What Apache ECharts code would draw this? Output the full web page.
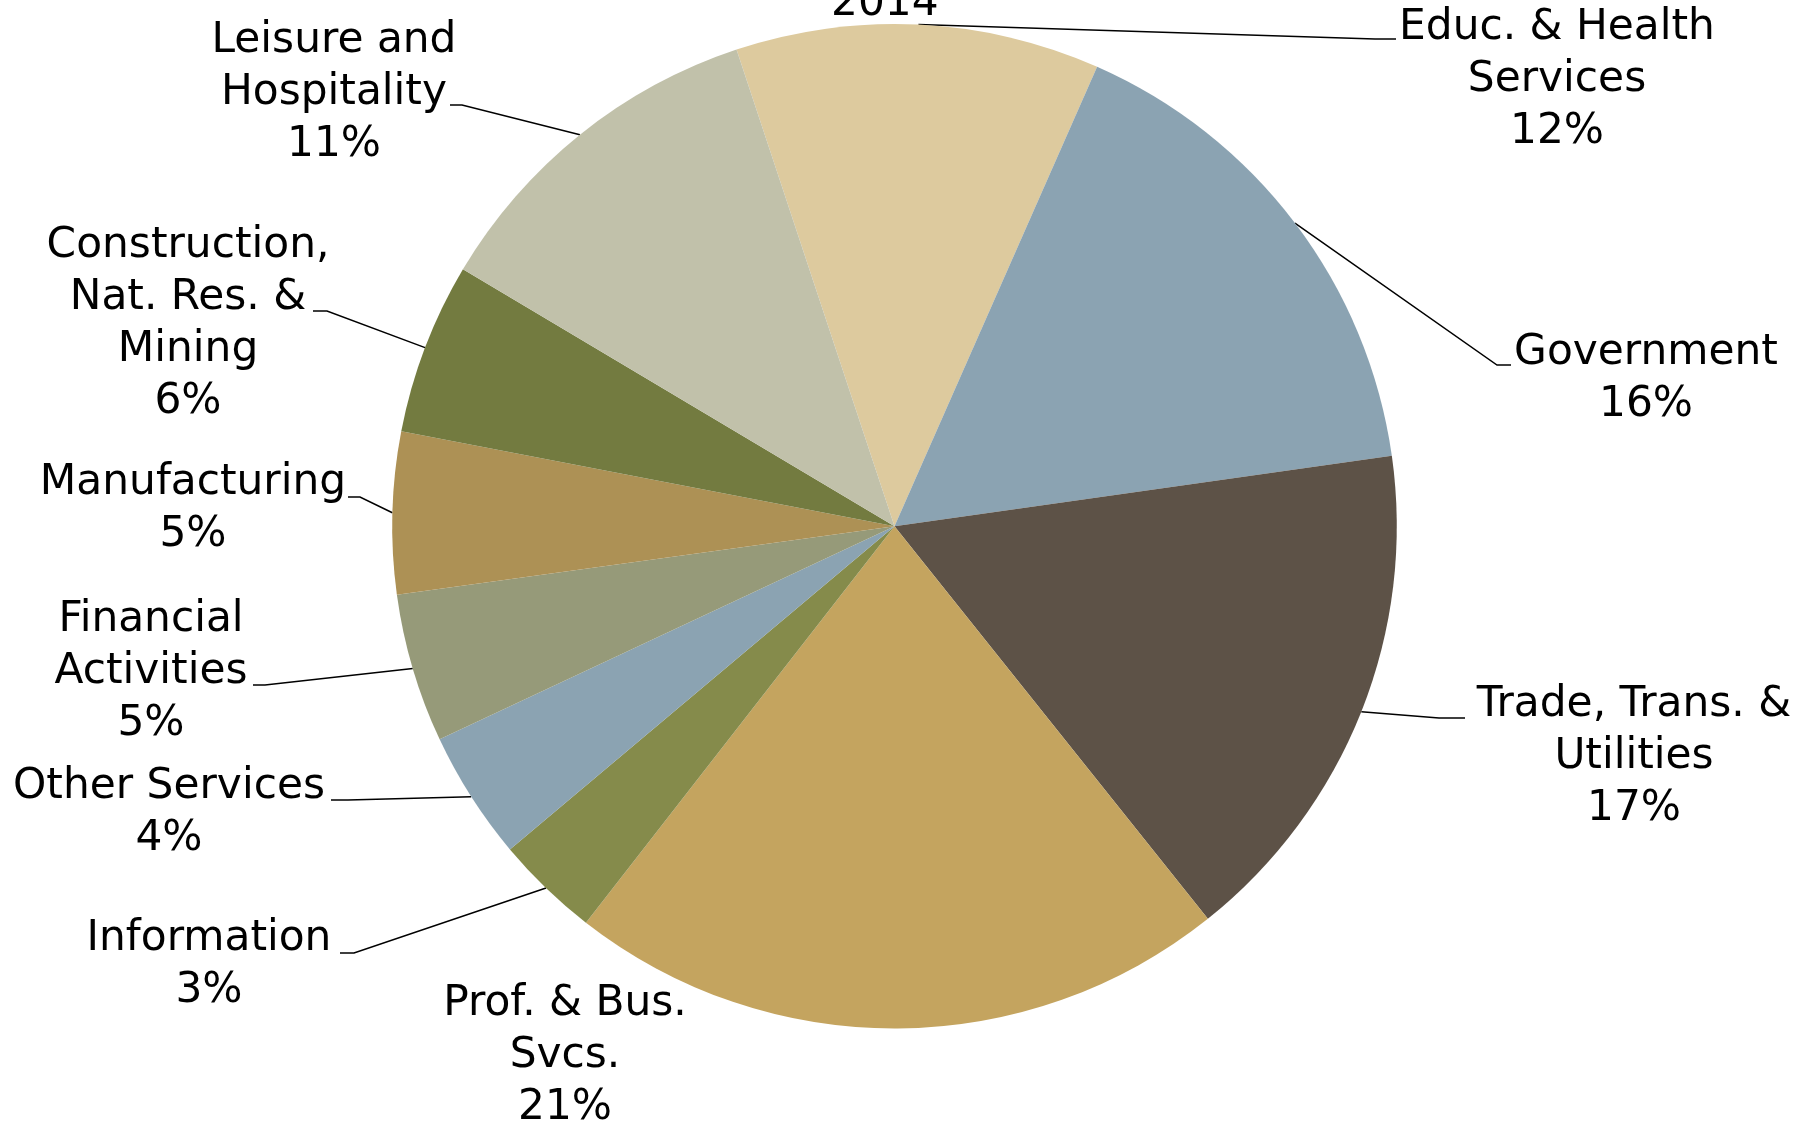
<!DOCTYPE html>
<html>
<head>
<meta charset="utf-8">
<title>2014</title>
<script src="https://cdn.jsdelivr.net/npm/echarts@6/dist/echarts.min.js"></script>
<style>
  html, body { margin: 0; padding: 0; background: #fff; }
  #main { width: 1820px; height: 1124px; }
</style>
</head>
<body>
<div id="main"></div>
<script>
const year = '2014';
const sectors = [
  'Educ. & Health\nServices',
  'Government',
  'Trade, Trans. &\nUtilities',
  'Prof. & Bus.\nSvcs.',
  'Information',
  'Other Services',
  'Financial\nActivities',
  'Manufacturing',
  'Construction,\nNat. Res. &\nMining',
  'Leisure and\nHospitality'
];
// share of employment, percent
const shares = [11.7, 16.15, 16.52, 21.25, 3.35, 4.15, 4.8, 5.2, 5.52, 11.36];
const colors = ['#DDCA9E', '#8BA3B2', '#5D5247', '#C4A45F', '#858B4B',
                '#8BA3B2', '#969A79', '#AD9155', '#737B40', '#C1C1AA'];

// pie geometry
const pieCenter = [894.5, 526.3];
const pieRadius = 502.3;
const firstEdge = -18.33; // degrees clockwise from 12 o'clock where the first slice starts

// where each label block sits (centre) and where its leader line ends (lx, ly), elbow at ex
const labelSpots = [
  { x: 1557, y: 80,  lx: 1396, ly: 39,  ex: 1375 },
  { x: 1646, y: 379, lx: 1511, ly: 365, ex: 1497 },
  { x: 1634, y: 757, lx: 1465, ly: 718, ex: 1439 },
  { x: 565,  y: 1056 },
  { x: 209,  y: 965, lx: 340, ly: 953, ex: 354 },
  { x: 169,  y: 813, lx: 331, ly: 800, ex: 348 },
  { x: 151,  y: 672, lx: 253, ly: 685, ex: 265 },
  { x: 193,  y: 509, lx: 348, ly: 497, ex: 360 },
  { x: 188,  y: 324, lx: 313, ly: 311, ex: 327 },
  { x: 334,  y: 93,  lx: 450, ly: 105, ex: 462 }
];

const total = shares.reduce((a, b) => a + b, 0);

// point on the rim in the middle of slice i
function rimPoint(i) {
  let before = 0;
  for (let k = 0; k < i; k++) before += shares[k];
  const deg = firstEdge + 360 * (before + shares[i] / 2) / total;
  const rad = deg * Math.PI / 180;
  return [pieCenter[0] + pieRadius * Math.sin(rad), pieCenter[1] - pieRadius * Math.cos(rad)];
}

const chart = echarts.init(document.getElementById('main'));

chart.setOption({
  animation: false,
  backgroundColor: '#fff',
  title: {
    text: year,
    left: 826,
    top: -22,
    textStyle: { fontFamily: 'DejaVu Sans', fontSize: 42.3, fontWeight: 'normal', color: '#000' }
  },
  series: [{
    type: 'pie',
    center: pieCenter,
    radius: pieRadius,
    startAngle: 90 - firstEdge,
    clockwise: true,
    avoidLabelOverlap: false,
    silent: true,
    itemStyle: { borderWidth: 0 },
    label: {
      show: true,
      position: 'outside',
      fontFamily: 'DejaVu Sans',
      fontSize: 42.3,
      lineHeight: 52.3,
      color: '#000',
      formatter: p => p.name + '\n' + Math.round(p.value / total * 100) + '%'
    },
    labelLine: { show: true, lineStyle: { color: '#000', width: 1.5 } },
    labelLayout: params => {
      const s = labelSpots[params.dataIndex];
      const out = { x: s.x, y: s.y, align: 'center', verticalAlign: 'middle' };
      if (s.lx !== undefined) {
        out.labelLinePoints = [rimPoint(params.dataIndex), [s.ex, s.ly], [s.lx, s.ly]];
      }
      return out;
    },
    data: sectors.map((name, i) => ({
      name: name,
      value: shares[i],
      itemStyle: { color: colors[i] },
      labelLine: { show: labelSpots[i].lx !== undefined }
    }))
  }]
});
</script>
</body>
</html>
